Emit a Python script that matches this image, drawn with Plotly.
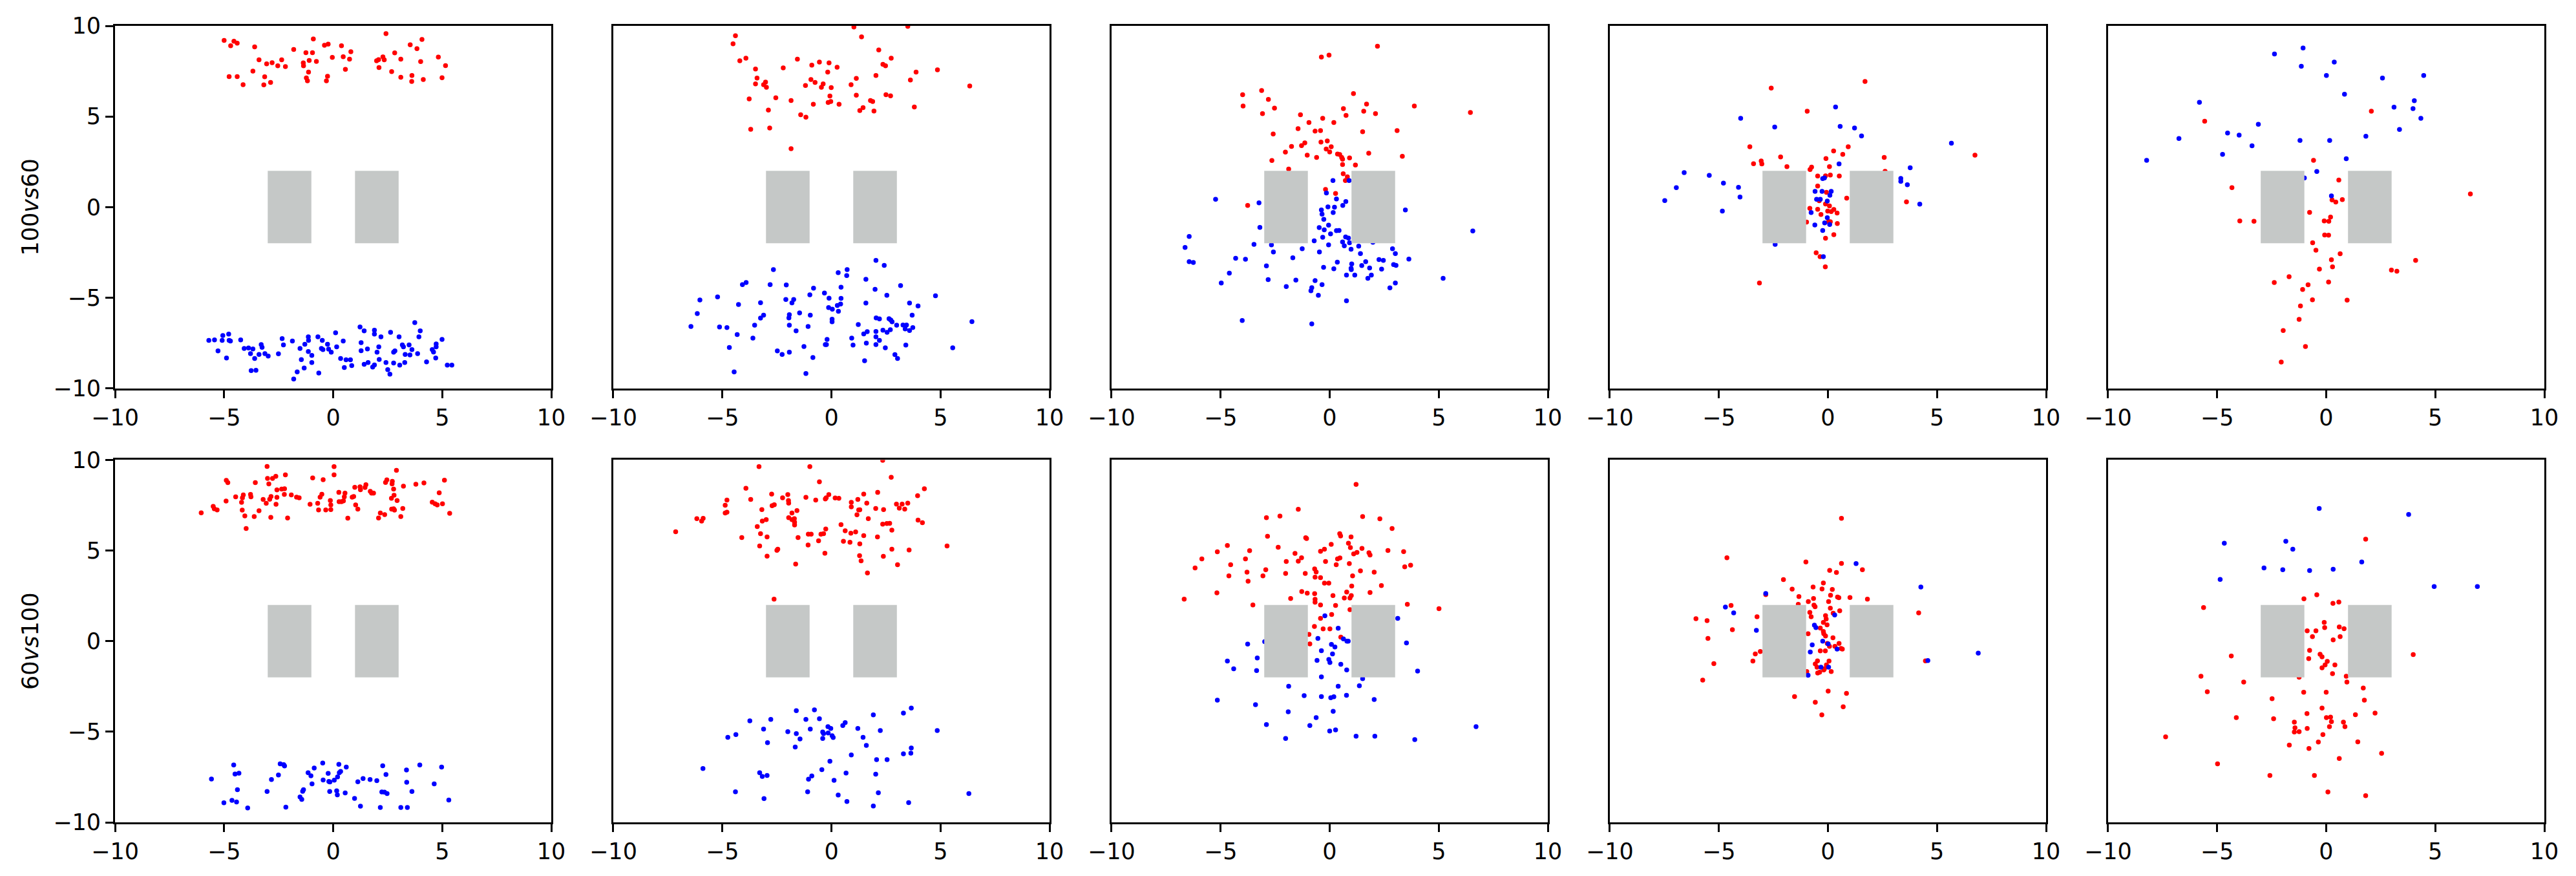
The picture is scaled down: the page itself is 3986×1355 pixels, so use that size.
import plotly.graph_objects as go
from plotly.subplots import make_subplots

# ---------------------------------------------------------------------------
# data: (x, y) of each point
# top row = "100 vs 60", bottom row = "60 vs 100", five stages left to right
# ---------------------------------------------------------------------------

top1_red = [(-5.0, 9.2), (-4.7, 8.9), (-4.55, 9.15), (-4.4, 9.05), (-3.6, 8.84), (-4.77, 7.2), (-4.4, 7.2),
            (-4.13, 6.75), (-3.68, 7.5), (-3.4, 8.13), (-3.05, 7.9), (-2.8, 7.97), (-3.14, 7.19), (-3.18, 6.74),
            (-2.87, 6.88), (-2.54, 7.8), (-2.36, 8.13), (-2.19, 7.75), (-1.81, 8.7), (-1.25, 8.52), (-0.95, 8.52),
            (-0.91, 9.28), (-1.37, 7.96), (-1.36, 7.8), (-1.1, 8.09), (-1.13, 7.45), (-0.77, 8.04), (-1.23, 7.13),
            (-1.18, 6.97), (-0.4, 8.93), (-0.23, 8.99), (-0.26, 7.22), (-0.31, 6.97), (-0.04, 8.26), (0.38, 8.9),
            (0.46, 8.3), (0.81, 8.57), (0.75, 8.16), (0.56, 7.6), (2.42, 9.57), (1.99, 8.07), (2.08, 8.14),
            (2.28, 8.29), (2.34, 8.13), (2.1, 7.7), (2.68, 7.48), (2.82, 8.51), (3.1, 8.16), (3.1, 7.16),
            (3.53, 8.96), (3.84, 8.74), (4.07, 9.25), (4.01, 8.03), (3.61, 7.26), (3.6, 6.93), (4.13, 7.04),
            (4.82, 8.28), (5.15, 7.81), (4.99, 7.14)]
top1_blue = [(-5.7, -7.36), (-5.44, -7.33), (-5.28, -7.94), (-5.09, -7.36), (-5.06, -7.09), (-4.79, -7.01),
             (-4.77, -7.36), (-4.71, -7.39), (-4.89, -8.33), (-4.24, -7.33), (-4.08, -7.8), (-3.88, -7.78),
             (-3.68, -7.83), (-3.79, -8.09), (-3.6, -8.36), (-3.76, -9.03), (-3.54, -9.01), (-3.3, -7.59),
             (-3.26, -7.74), (-3.4, -8.13), (-3.13, -8.09), (-2.98, -8.22), (-2.51, -8.1), (-2.34, -7.26),
             (-2.28, -7.61), (-1.87, -7.39), (-1.81, -9.49), (-1.65, -9.1), (-1.52, -7.8), (-1.46, -8.42),
             (-1.33, -8.88), (-1.3, -7.57), (-1.14, -7.16), (-1.13, -7.36), (-1.14, -7.97), (-0.98, -8.19),
             (-0.98, -8.58), (-0.7, -7.16), (-0.66, -9.16), (-0.5, -7.36), (-0.54, -7.8), (-0.47, -7.87),
             (-0.26, -7.57), (-0.21, -7.84), (-0.09, -8.01), (0.11, -6.94), (0.16, -7.71), (0.46, -7.39),
             (0.34, -8.36), (0.51, -8.86), (0.59, -8.43), (0.79, -8.43), (0.85, -8.75), (1.23, -6.62),
             (1.42, -6.83), (1.28, -7.48), (1.28, -7.93), (1.57, -7.83), (1.42, -8.68), (1.6, -8.58),
             (1.81, -8.83), (1.89, -8.71), (1.89, -6.8), (1.89, -7.01), (2.19, -7.16), (2.09, -7.71),
             (2.01, -8.01), (2.11, -8.41), (2.42, -8.58), (2.5, -8.97), (2.6, -9.22), (2.63, -6.91),
             (2.77, -8.01), (2.83, -7.94), (2.77, -8.61), (3.02, -7.16), (3.05, -8.72), (3.17, -7.61),
             (3.22, -7.71), (3.3, -8.13), (3.28, -8.58), (3.48, -7.61), (3.52, -8.16), (3.61, -7.87),
             (3.74, -6.38), (3.99, -6.83), (3.93, -7.16), (3.87, -8.09), (4.28, -8.54), (4.54, -7.87),
             (4.6, -8.0), (4.72, -7.55), (4.72, -7.71), (4.7, -8.33), (4.99, -7.3), (5.23, -8.72), (5.44, -8.72)]

top2_red = [(1.03, 9.94), (3.5, 9.97), (-4.4, 9.46), (-4.51, 9.01), (1.38, 9.39), (2.17, 8.67), (-3.92, 8.22),
            (-4.2, 8.07), (-1.56, 8.16), (-3.48, 7.62), (-2.21, 7.68), (-0.9, 7.83), (-0.55, 8.0), (-0.11, 7.96),
            (0.26, 7.72), (-0.17, 7.45), (2.74, 8.22), (2.36, 7.88), (2.48, 7.8), (4.86, 7.57), (3.88, 7.45),
            (2.04, 7.26), (-3.41, 7.12), (-3.02, 6.9), (-3.11, 6.75), (-3.48, 6.8), (-2.98, 6.61), (-0.94, 7.04),
            (-0.75, 6.88), (-1.19, 6.71), (-0.38, 6.8), (-0.46, 6.61), (-0.01, 6.59), (1.14, 7.1), (0.9, 6.75),
            (3.62, 7.01), (6.34, 6.68), (-3.77, 5.97), (-2.55, 6.03), (-1.85, 5.88), (-0.83, 5.67), (-0.07, 6.13),
            (-0.15, 5.77), (-0.03, 5.83), (0.35, 5.67), (1.14, 6.17), (1.79, 5.88), (1.89, 5.83), (2.5, 6.2),
            (2.71, 6.14), (1.3, 5.33), (1.45, 5.49), (1.95, 5.3), (3.8, 5.52), (-2.89, 5.35), (-1.41, 5.09),
            (-1.17, 4.96), (-3.7, 4.29), (-2.83, 4.36), (-1.85, 3.22)]
top2_blue = [(2.04, -2.94), (2.42, -3.22), (-2.66, -3.45), (0.31, -3.62), (0.72, -3.45), (0.7, -3.78),
             (1.58, -3.99), (-4.08, -4.28), (-3.91, -4.16), (-2.81, -4.28), (-2.07, -4.3), (-0.82, -4.48),
             (0.44, -4.42), (3.17, -4.33), (2.0, -4.54), (2.54, -4.87), (4.77, -4.9), (-5.22, -4.96),
             (-6.03, -5.13), (-0.99, -4.84), (-0.32, -4.74), (-0.11, -5.03), (0.44, -5.04), (-2.09, -5.1),
             (-1.73, -5.1), (-1.81, -5.29), (-3.25, -5.28), (-4.26, -5.38), (1.58, -5.3), (3.58, -5.3),
             (3.97, -5.46), (0.27, -5.43), (0.42, -5.35), (-0.13, -5.55), (0.04, -5.64), (0.32, -5.75),
             (-6.15, -5.88), (-3.11, -5.97), (-3.25, -6.13), (-1.93, -5.94), (-1.95, -6.12), (-1.46, -5.84),
             (-0.97, -5.97), (0.03, -6.19), (0.03, -6.33), (2.05, -6.12), (2.2, -6.17), (2.64, -6.16),
             (2.72, -6.23), (2.78, -6.33), (3.7, -5.97), (6.44, -6.32), (-6.44, -6.59), (-5.13, -6.62),
             (-4.79, -6.65), (-3.52, -6.52), (-1.93, -6.52), (-1.07, -6.59), (-1.62, -6.83), (1.23, -6.48),
             (2.99, -6.52), (3.28, -6.51), (3.44, -6.51), (3.38, -6.72), (3.58, -6.81), (3.73, -6.65),
             (2.36, -6.8), (2.55, -6.91), (2.7, -6.77), (2.04, -6.87), (1.64, -6.88), (1.48, -7.0),
             (-4.32, -7.04), (-3.6, -7.23), (0.93, -7.23), (2.04, -7.16), (2.2, -7.36), (-0.2, -7.3),
             (-0.28, -7.59), (-0.23, -7.59), (0.99, -7.62), (1.6, -7.51), (2.04, -7.59), (2.47, -7.77),
             (3.41, -7.62), (5.56, -7.77), (-4.68, -7.75), (-1.26, -7.7), (-2.48, -7.94), (-2.26, -8.13),
             (-1.93, -8.01), (-0.85, -8.3), (1.52, -8.48), (2.91, -8.14), (3.03, -8.36), (-4.46, -9.1),
             (-1.17, -9.19)]

top3_red = [(2.19, 8.88), (-0.38, 8.28), (-0.03, 8.39), (-3.12, 6.43), (-3.99, 6.2), (-3.97, 5.58), (-2.81, 5.94),
            (-2.53, 5.46), (-3.08, 5.16), (1.09, 6.26), (3.88, 5.58), (1.69, 5.68), (0.63, 5.43), (0.75, 5.06),
            (1.56, 5.29), (2.1, 5.16), (6.45, 5.22), (-1.34, 5.09), (-0.32, 4.9), (-0.95, 4.67), (0.19, 4.67),
            (-1.45, 4.33), (-0.67, 4.19), (-0.42, 4.22), (1.51, 4.16), (3.09, 4.22), (-2.59, 4.03), (-0.11, 3.65),
            (-0.4, 3.59), (-1.14, 3.54), (-1.29, 3.39), (-1.75, 3.35), (0.07, 3.33), (-0.16, 3.2), (0.0, 3.04),
            (-2.03, 3.03), (-1.03, 2.86), (0.36, 2.93), (0.46, 2.9), (-0.6, 2.74), (0.55, 2.74), (0.59, 2.64),
            (0.91, 2.71), (1.79, 2.97), (3.33, 2.8), (-2.65, 2.57), (0.59, 2.35), (1.18, 2.32), (-1.88, 2.1),
            (0.62, 1.84), (0.81, 1.67), (0.72, 1.46), (-0.19, 0.97), (0.27, 0.75), (-3.76, 0.09)]
top3_blue = [(0.15, 1.46), (0.89, 1.46), (-0.15, 0.78), (0.31, 0.45), (0.74, 0.3), (0.6, 0.09), (-5.23, 0.43),
             (-3.24, 0.23), (-0.08, 0.01), (0.22, -0.01), (-0.38, -0.16), (-0.35, -0.39), (0.16, -0.3),
             (3.47, -0.16), (-0.27, -0.68), (-0.05, -1.0), (-0.48, -1.13), (-0.25, -1.26), (0.31, -1.3),
             (0.43, -1.29), (0.04, -1.48), (-3.2, -1.12), (6.56, -1.32), (-6.44, -1.62), (-0.32, -1.67),
             (0.73, -1.65), (0.86, -1.71), (-0.71, -1.86), (0.59, -1.93), (0.91, -1.97), (1.98, -1.94),
             (-0.05, -2.09), (0.67, -2.14), (-2.67, -2.09), (-6.63, -2.23), (-3.47, -2.06), (-1.26, -2.3),
             (0.98, -2.33), (1.33, -2.16), (2.88, -2.3), (-2.58, -2.48), (-0.47, -2.48), (1.41, -2.57),
             (3.01, -2.57), (-6.44, -3.01), (-6.25, -3.06), (-4.31, -2.83), (-3.86, -2.88), (-1.69, -2.8),
             (3.63, -2.87), (2.26, -2.9), (2.46, -2.94), (0.35, -3.04), (1.01, -3.14), (1.65, -3.01),
             (1.47, -3.23), (2.93, -3.17), (3.04, -3.22), (-2.9, -3.25), (-0.28, -3.33), (0.19, -3.41),
             (0.98, -3.38), (0.99, -3.45), (1.83, -3.36), (2.38, -3.42), (-4.6, -3.65), (0.77, -3.75),
             (1.15, -3.75), (1.91, -3.75), (1.75, -3.93), (5.2, -3.93), (-4.97, -4.19), (-2.82, -4.0),
             (-1.55, -4.03), (-0.67, -4.06), (-0.35, -4.28), (-1.99, -4.39), (-0.82, -4.45), (-0.86, -4.62),
             (3.01, -4.19), (2.76, -4.46), (-0.52, -4.87), (0.77, -5.17), (-4.01, -6.26), (-0.82, -6.45)]

top4_red = [(1.7, 6.93), (-2.6, 6.57), (-0.95, 5.29), (-3.58, 3.33), (-2.17, 2.77), (-3.06, 2.54), (-3.03, 2.38),
            (-3.41, 2.39), (-1.88, 2.23), (0.93, 3.33), (0.26, 3.1), (0.68, 2.91), (-0.09, 2.68), (2.58, 2.74),
            (6.74, 2.86), (-0.75, 2.2), (-0.82, 2.07), (0.07, 2.23), (-0.47, 1.71), (-0.11, 1.72), (0.11, 1.77),
            (0.52, 1.71), (2.62, 1.97), (-0.47, 1.16), (-0.07, 0.81), (0.86, 0.49), (3.6, 0.29), (-0.4, 0.35),
            (-0.11, 0.17), (0.07, 0.06), (-0.83, -0.07), (-0.47, -0.12), (-0.01, -0.22), (0.15, -0.25),
            (0.27, -0.13), (0.42, -0.33), (-0.32, -0.41), (-0.98, -0.83), (0.03, -0.8), (0.11, -0.81),
            (0.43, -0.91), (-0.11, -1.72), (0.27, -1.52), (-0.54, -2.52), (-0.36, -2.74), (-0.12, -3.3),
            (-3.14, -4.19)]
top4_blue = [(0.35, 5.52), (-4.0, 4.9), (-2.44, 4.42), (0.56, 4.45), (1.22, 4.36), (1.54, 3.93), (5.66, 3.52),
             (0.51, 2.38), (3.77, 2.17), (-6.59, 1.9), (-5.44, 1.75), (-4.79, 1.32), (-4.1, 1.09), (-6.95, 1.07),
             (-4.03, 0.55), (-7.48, 0.36), (-4.84, -0.22), (3.34, 1.58), (3.34, 1.42), (3.64, 1.23), (4.21, 0.16),
             (-0.24, 1.57), (-0.16, 1.61), (-0.59, 0.87), (-0.27, 0.87), (0.15, 0.87), (0.09, 0.65), (-0.52, 0.43),
             (-0.35, 0.43), (-0.03, 0.33), (-0.77, -0.3), (-0.03, -0.59), (-0.15, -0.87), (0.08, -0.96),
             (-0.6, -0.99), (-0.24, -1.29), (-2.42, -2.06), (-0.21, -2.74)]

top5_red = [(2.07, 5.29), (-5.57, 4.74), (-0.58, 2.58), (0.58, 1.49), (-4.32, 1.07), (6.61, 0.72), (0.27, 0.39),
            (0.44, 0.28), (0.74, 0.41), (-0.76, -0.29), (0.2, -0.55), (-3.96, -0.77), (-3.31, -0.78),
            (-0.09, -0.77), (0.12, -0.78), (-0.07, -1.54), (0.11, -1.55), (-0.62, -1.97), (-0.47, -2.38),
            (0.64, -2.58), (0.24, -2.91), (0.29, -3.3), (4.1, -2.94), (2.99, -3.48), (3.24, -3.54), (-0.31, -3.42),
            (-1.7, -3.84), (-2.38, -4.16), (-0.83, -4.29), (-1.08, -4.55), (0.11, -4.14), (-0.63, -5.12),
            (0.96, -5.14), (-1.18, -5.46), (-1.24, -6.2), (-1.97, -6.81), (-0.95, -7.7), (-2.06, -8.55)]
top5_blue = [(-1.06, 8.78), (-2.37, 8.45), (-1.14, 7.77), (0.37, 8.0), (0.01, 7.26), (2.58, 7.12), (4.47, 7.26),
             (0.84, 6.23), (-5.81, 5.78), (4.04, 5.87), (3.11, 5.51), (3.98, 5.43), (4.34, 4.9), (-3.11, 4.57),
             (3.36, 4.28), (-4.52, 4.09), (-3.99, 3.97), (-6.75, 3.78), (1.82, 3.91), (-1.2, 3.68), (0.16, 3.68),
             (-3.4, 3.38), (-4.75, 2.91), (-8.23, 2.58), (0.92, 2.67), (-0.43, 1.96), (-1.0, 1.61), (0.24, 0.62)]

bot1_red = [(-3.03, 9.64), (0.04, 9.63), (2.9, 9.43), (0.04, 9.18), (-2.19, 9.18), (-2.63, 9.1), (-2.78, 8.98),
            (-3.01, 8.98), (-0.94, 9.01), (-0.46, 8.91), (-4.9, 8.87), (-4.83, 8.75), (-3.57, 8.75), (-2.95, 8.68),
            (2.46, 8.9), (2.4, 8.76), (2.71, 8.82), (2.7, 8.68), (3.79, 8.66), (4.16, 8.73), (5.1, 8.88),
            (3.22, 8.55), (0.99, 8.49), (1.23, 8.52), (1.25, 8.36), (1.5, 8.63), (1.46, 8.48), (2.77, 8.39),
            (-2.58, 8.35), (-2.36, 8.39), (-2.23, 8.41), (1.7, 8.27), (1.76, 8.17), (1.85, 8.17), (4.86, 8.19),
            (0.26, 8.21), (0.54, 8.17), (-4.12, 8.07), (-3.79, 8.1), (-3.77, 7.96), (-4.47, 7.96), (-4.16, 7.91),
            (-2.24, 8.1), (-1.92, 8.07), (-1.68, 7.95), (-1.56, 7.91), (-0.52, 8.11), (-0.6, 7.95), (-2.85, 7.98),
            (-2.58, 7.94), (-2.91, 7.83), (-3.21, 7.82), (0.51, 7.96), (0.87, 7.95), (0.94, 7.98), (2.79, 8.05),
            (2.67, 7.88), (2.93, 7.76), (-0.13, 7.76), (0.27, 7.7), (0.38, 7.7), (0.47, 7.74), (-4.91, 7.73),
            (-4.2, 7.66), (-3.07, 7.61), (-2.62, 7.55), (-1.06, 7.55), (-0.71, 7.61), (-0.11, 7.52), (1.03, 7.52),
            (4.54, 7.67), (4.67, 7.58), (4.77, 7.52), (5.01, 7.58), (-5.5, 7.44), (-5.45, 7.3), (-5.32, 7.24),
            (-4.17, 7.23), (-3.4, 7.2), (-0.67, 7.24), (-0.34, 7.24), (-0.11, 7.26), (1.13, 7.29), (2.68, 7.29),
            (2.81, 7.23), (2.77, 7.3), (3.19, 7.32), (-6.05, 7.08), (2.16, 7.07), (2.36, 6.98), (5.34, 7.05),
            (-4.05, 6.91), (-3.62, 6.88), (-2.86, 6.83), (-2.09, 6.8), (0.67, 6.79), (2.08, 6.8), (3.1, 6.88),
            (-3.99, 6.22)]
bot1_blue = [(-4.56, -6.83), (-2.43, -6.77), (-2.27, -6.82), (-2.23, -6.89), (-0.48, -6.73), (0.26, -6.8),
             (0.6, -6.95), (-0.87, -7.0), (2.27, -6.88), (3.97, -6.83), (4.97, -6.95), (3.36, -7.11),
             (-4.5, -7.33), (-4.32, -7.29), (-2.51, -7.39), (-1.15, -7.26), (-1.02, -7.43), (-0.23, -7.3),
             (0.28, -7.26), (0.34, -7.19), (2.42, -7.36), (-5.58, -7.61), (-2.83, -7.64), (-0.46, -7.66),
             (-0.2, -7.74), (-0.15, -7.77), (0.05, -7.67), (0.2, -7.49), (1.37, -7.58), (1.69, -7.64),
             (2.0, -7.7), (1.13, -7.76), (3.37, -7.79), (4.63, -7.88), (-0.97, -7.88), (-4.39, -8.2),
             (-1.36, -8.2), (-1.4, -8.29), (-3.03, -8.3), (-0.16, -8.3), (0.16, -8.26), (0.19, -8.48),
             (0.55, -8.38), (2.23, -8.32), (2.35, -8.33), (2.47, -8.41), (3.61, -8.3), (-1.52, -8.6),
             (-1.44, -8.73), (0.98, -8.68), (-5.01, -8.92), (-4.64, -8.79), (-4.43, -8.88), (5.3, -8.77),
             (-3.92, -9.21), (-2.17, -9.16), (1.25, -9.11), (2.16, -9.18), (3.1, -9.18), (3.4, -9.18)]

bot2_red = [(-3.32, 9.63), (-0.99, 9.63), (2.35, 9.98), (2.74, 9.04), (-0.55, 8.79), (-3.92, 8.44), (4.26, 8.41),
            (2.12, 8.21), (1.48, 8.12), (-2.74, 8.12), (-2.0, 8.09), (-0.12, 8.09), (3.95, 8.03), (-1.17, 7.94),
            (-2.24, 7.91), (-0.24, 7.91), (-0.28, 7.85), (0.17, 7.9), (0.34, 7.88), (-4.79, 7.79), (-3.7, 7.82),
            (-1.97, 7.76), (-1.96, 7.62), (-0.72, 7.79), (1.21, 7.82), (0.91, 7.66), (0.91, 7.41), (1.62, 7.62),
            (2.98, 7.56), (3.24, 7.56), (3.5, 7.62), (3.11, 7.34), (3.36, 7.29), (-4.87, 7.5), (-2.72, 7.47),
            (-2.62, 7.53), (-3.19, 7.26), (2.03, 7.32), (2.39, 7.26), (1.25, 7.24), (1.3, 7.25), (-1.58, 7.21),
            (-1.81, 7.07), (-4.87, 7.07), (-4.79, 7.12), (1.17, 6.97), (-6.17, 6.76), (-5.95, 6.63), (-5.88, 6.78),
            (-3.17, 6.63), (-2.99, 6.71), (-1.96, 6.81), (-1.81, 6.71), (-1.7, 6.76), (-1.69, 6.56), (-1.69, 6.41),
            (1.69, 6.76), (3.97, 6.68), (4.17, 6.54), (2.35, 6.46), (2.54, 6.49), (2.67, 6.5), (0.44, 6.43),
            (-3.4, 6.32), (-0.26, 6.19), (2.77, 6.13), (-7.14, 6.04), (0.63, 6.09), (0.89, 5.96), (1.11, 6.03),
            (-3.25, 5.93), (-1.06, 5.9), (-0.93, 5.9), (-0.48, 5.9), (-0.36, 5.93), (1.48, 5.82), (-4.11, 5.72),
            (-2.95, 5.75), (-1.53, 5.72), (2.11, 5.75), (-0.59, 5.54), (0.55, 5.51), (0.85, 5.46), (1.3, 5.37),
            (-3.29, 5.25), (-1.07, 5.31), (5.3, 5.25), (-2.46, 5.07), (-2.5, 5.01), (2.77, 5.07), (3.56, 5.03),
            (-0.3, 4.85), (-2.95, 4.69), (1.29, 4.72), (2.38, 4.68), (1.36, 4.43), (-1.64, 4.25), (3.03, 4.22),
            (1.65, 3.76), (-2.63, 2.32)]
bot2_blue = [(3.66, -3.69), (-1.61, -3.84), (-0.78, -3.79), (1.92, -4.07), (3.3, -3.97), (-3.74, -4.4),
             (-2.78, -4.32), (-1.17, -4.32), (-0.55, -4.28), (0.63, -4.5), (0.52, -4.66), (-0.16, -4.72),
             (-0.03, -4.82), (-0.97, -4.85), (-3.11, -4.85), (1.21, -4.82), (2.24, -4.93), (4.85, -4.93),
             (-2.0, -5.0), (-1.61, -5.1), (-0.4, -5.01), (-0.36, -5.1), (-0.15, -5.07), (0.03, -5.22),
             (0.08, -5.32), (-0.4, -5.37), (-4.38, -5.16), (-4.75, -5.31), (-1.44, -5.4), (1.45, -5.31),
             (-2.93, -5.6), (1.6, -5.75), (-1.66, -5.84), (3.66, -5.9), (3.64, -6.18), (3.3, -6.22),
             (0.91, -6.28), (2.07, -6.54), (2.55, -6.54), (-0.07, -6.63), (-5.89, -7.03), (-3.29, -7.26),
             (-3.17, -7.47), (-2.95, -7.41), (-0.44, -7.09), (0.67, -7.28), (2.03, -7.34), (-0.9, -7.44),
             (-1.05, -7.62), (0.12, -7.68), (-4.4, -8.31), (-1.09, -8.31), (0.31, -8.49), (2.15, -8.37),
             (6.3, -8.41), (-3.09, -8.69), (0.71, -8.85), (1.92, -9.1), (3.54, -8.91)]

bot3_red = [(1.21, 8.65), (-1.44, 7.28), (-2.9, 6.81), (-2.28, 6.9), (1.51, 6.88), (2.3, 6.75), (2.86, 6.22),
            (-2.85, 5.79), (-1.1, 5.71), (-1.06, 5.66), (0.46, 5.93), (0.5, 5.81), (0.98, 5.75), (-4.69, 5.28),
            (-5.15, 4.93), (-3.67, 4.99), (-2.36, 5.18), (0.07, 5.34), (-0.24, 5.07), (-0.42, 4.96), (0.86, 5.4),
            (0.95, 5.16), (1.48, 5.12), (1.25, 4.9), (1.1, 4.82), (1.8, 4.88), (1.85, 4.75), (2.67, 5.0),
            (3.39, 4.94), (-5.86, 4.54), (-3.86, 4.54), (-1.59, 4.84), (-1.29, 4.6), (-1.44, 4.41), (-1.99, 4.4),
            (-0.19, 4.4), (0.36, 4.54), (0.47, 4.59), (0.3, 4.22), (0.9, 4.28), (-6.17, 4.04), (-4.54, 4.22),
            (3.71, 4.19), (3.44, 4.1), (-2.93, 3.94), (-0.69, 3.99), (-0.62, 3.82), (-3.79, 3.81), (-2.02, 3.74),
            (-1.12, 3.74), (1.41, 3.88), (2.04, 3.81), (-4.62, 3.6), (-3.06, 3.6), (-0.67, 3.53), (-0.42, 3.5),
            (1.05, 3.6), (-3.74, 3.31), (-0.24, 3.2), (-0.04, 3.2), (1.01, 3.04), (2.37, 3.07), (-5.17, 2.67),
            (-1.28, 2.74), (-1.03, 2.65), (-0.69, 2.62), (0.15, 2.51), (0.78, 2.71), (0.99, 2.51), (0.93, 2.38),
            (0.67, 2.38), (1.85, 2.68), (-6.67, 2.32), (-1.79, 2.35), (-0.67, 2.31), (-0.67, 2.15), (-3.52, 2.0),
            (-0.42, 2.0), (0.27, 1.97), (0.93, 1.74), (3.56, 2.03), (5.01, 1.79), (0.09, 1.47), (-0.42, 1.26),
            (-0.7, 0.81), (-0.3, 0.68), (0.01, 0.68), (-0.95, 0.37), (-0.91, -0.15), (0.51, 0.22)]
bot3_blue = [(-0.22, 1.4), (3.12, 1.26), (0.39, 0.71), (-0.54, 0.15), (0.63, 0.12), (0.79, 0.0), (0.85, 0.0),
             (-3.76, -0.16), (-2.98, -0.03), (0.08, -0.18), (0.24, -0.32), (3.52, -0.1), (-0.38, -0.53),
             (0.13, -0.71), (-3.32, -0.93), (-4.69, -1.1), (-0.58, -1.06), (-0.04, -1.01), (0.01, -1.18),
             (0.51, -1.28), (-4.4, -1.53), (-3.35, -1.62), (0.78, -1.59), (4.03, -1.65), (-0.38, -1.97),
             (1.51, -2.07), (-1.88, -2.49), (0.39, -2.49), (1.36, -2.46), (-1.17, -3.01), (-0.38, -3.06),
             (0.05, -3.12), (0.19, -3.07), (0.77, -2.99), (2.04, -3.22), (-5.15, -3.26), (-3.4, -3.51),
             (-1.9, -3.9), (0.16, -3.87), (-0.62, -4.22), (-2.9, -4.6), (-0.91, -4.66), (0.0, -4.96),
             (0.27, -4.9), (-2.02, -5.37), (1.21, -5.25), (2.07, -5.25), (3.9, -5.43), (6.71, -4.72)]

bot4_red = [(0.62, 6.78), (-4.63, 4.6), (-1.01, 4.37), (0.62, 4.29), (1.58, 3.94), (0.08, 3.91), (0.39, 3.79),
            (-2.04, 3.4), (-0.21, 3.21), (-0.68, 2.99), (-0.27, 2.88), (0.2, 2.85), (-1.64, 2.87), (-1.33, 2.46),
            (0.12, 2.53), (0.44, 2.43), (0.5, 2.4), (1.01, 2.41), (1.81, 2.32), (-2.85, 2.57), (-0.66, 2.35),
            (-0.9, 2.18), (0.03, 2.18), (-1.36, 2.03), (-0.64, 1.99), (-0.59, 1.9), (0.11, 1.82), (0.54, 1.68),
            (-4.44, 1.97), (-0.83, 1.59), (0.24, 1.54), (-0.11, 1.41), (-0.77, 1.35), (-0.08, 1.22), (-0.04, 0.9),
            (-0.21, 1.03), (4.16, 1.56), (-6.05, 1.24), (-5.54, 1.13), (-3.25, 1.35), (-4.38, 0.63), (-5.5, 0.15),
            (-0.91, 0.41), (-0.35, 0.72), (-0.21, 0.53), (-0.19, 0.41), (-0.11, 0.28), (0.23, 0.19), (0.51, -0.13),
            (-0.03, -0.13), (0.07, -0.29), (0.32, -0.29), (0.6, -0.4), (0.66, -0.44), (-3.1, -0.57),
            (-3.33, -0.71), (-0.35, -0.54), (-0.12, -0.54), (-3.44, -1.1), (-5.23, -1.24), (-0.48, -1.09),
            (0.05, -1.1), (-0.58, -1.26), (-0.5, -1.44), (-0.16, -1.53), (-0.07, -1.31), (-0.19, -1.59),
            (-0.47, -1.76), (-0.38, -1.71), (0.15, -1.68), (-0.97, -1.68), (4.47, -1.09), (-5.74, -2.15),
            (0.01, -2.76), (0.85, -2.88), (-1.53, -3.06), (-0.58, -3.37), (0.7, -3.62), (-0.28, -4.07)]
bot4_blue = [(1.29, 4.28), (4.26, 2.99), (-2.85, 2.63), (-4.7, 1.88), (-4.32, 1.56), (0.31, 1.44), (-3.28, 0.6),
             (-0.62, 0.88), (-0.55, 0.75), (-0.24, 0.0), (0.01, -0.15), (-0.72, -0.21), (0.42, -0.44),
             (-0.81, -0.6), (6.89, -0.66), (4.58, -1.07), (-0.32, -1.44), (0.03, -1.44), (-0.91, -1.88)]

bot5_red = [(1.81, 5.63), (-0.43, 2.56), (-1.02, 2.34), (0.31, 2.09), (0.58, 2.16), (-5.62, 1.85), (-0.09, 1.03),
            (-0.07, 0.75), (-0.87, 0.57), (-0.47, 0.57), (0.6, 0.78), (0.82, 0.69), (-0.63, 0.25), (0.64, 0.25),
            (0.32, 0.07), (-0.76, -0.51), (-0.28, -0.72), (-0.19, -0.87), (-4.35, -0.82), (3.99, -0.74),
            (-0.8, -0.96), (0.05, -1.12), (-0.05, -1.31), (0.4, -1.31), (-0.19, -1.47), (0.29, -1.79),
            (-5.74, -1.94), (-1.24, -1.99), (0.92, -1.94), (0.95, -2.26), (-3.78, -2.26), (1.7, -2.59),
            (-5.45, -2.79), (-1.03, -2.82), (0.0, -2.82), (-2.48, -3.18), (1.75, -3.26), (-0.19, -3.69),
            (-0.88, -4.0), (2.24, -3.97), (1.34, -4.06), (-4.12, -4.22), (-2.41, -4.28), (0.01, -4.22),
            (0.2, -4.19), (0.24, -4.44), (-1.46, -4.47), (0.79, -4.47), (0.86, -4.72), (0.15, -4.72),
            (-1.43, -4.78), (-1.46, -5.01), (-1.24, -5.0), (-0.87, -4.82), (-0.15, -5.16), (-7.36, -5.28),
            (-0.36, -5.57), (1.45, -5.56), (-1.69, -5.74), (-0.79, -5.92), (2.54, -6.19), (0.6, -6.48),
            (-4.98, -6.77), (-2.58, -7.41), (-0.54, -7.41), (0.08, -8.32), (1.81, -8.53)]
bot5_blue = [(-0.32, 7.32), (3.78, 6.99), (-4.67, 5.4), (-1.85, 5.51), (-1.53, 5.07), (1.63, 4.37), (-2.85, 4.04),
             (-1.99, 3.94), (-0.76, 3.9), (0.32, 3.97), (-4.86, 3.41), (4.95, 3.01), (6.93, 3.01)]

row_labels = ["100<i>vs</i>60", "60<i>vs</i>100"]
panels = [
    [(top1_red, top1_blue), (top2_red, top2_blue), (top3_red, top3_blue), (top4_red, top4_blue), (top5_red, top5_blue)],
    [(bot1_red, bot1_blue), (bot2_red, bot2_blue), (bot3_red, bot3_blue), (bot4_red, bot4_blue), (bot5_red, bot5_blue)],
]

# two grey obstacles shared by every panel
obstacles = [(-3, -1, -2, 2), (1, 3, -2, 2)]
axis_ticks = [-10, -5, 0, 5, 10]
axis_ticktext = ["\u221210", "\u22125", "0", "5", "10"]

FONT = "DejaVu Sans"

fig = make_subplots(rows=2, cols=5, horizontal_spacing=0.0255, vertical_spacing=0.09)

for r, row in enumerate(panels, start=1):
    for c, (red, blue) in enumerate(row, start=1):
        fig.add_trace(go.Scatter(
            x=[p[0] for p in red], y=[p[1] for p in red], mode="markers",
            marker=dict(color="#ff0000", size=7.5, line=dict(width=0)), showlegend=False
        ), row=r, col=c)
        fig.add_trace(go.Scatter(
            x=[p[0] for p in blue], y=[p[1] for p in blue], mode="markers",
            marker=dict(color="#0000ff", size=7.5, line=dict(width=0)), showlegend=False
        ), row=r, col=c)
        for x0, x1, y0, y1 in obstacles:
            fig.add_shape(type="rect", x0=x0, x1=x1, y0=y0, y1=y1,
                          fillcolor="#c5c8c7", line=dict(width=0), layer="above",
                          row=r, col=c)

common = dict(
    range=[-10, 10], showgrid=False, zeroline=False,
    showline=True, linecolor="black", linewidth=3, mirror=True,
    tickvals=axis_ticks, ticktext=axis_ticktext,
    tickfont=dict(family=FONT, size=35, color="black"),
)
fig.update_xaxes(ticks="outside", ticklen=12, tickwidth=3, tickcolor="black", **common)
fig.update_yaxes(ticks="", showticklabels=False, **common)
fig.update_yaxes(ticks="outside", ticklen=12, tickwidth=3, tickcolor="black", showticklabels=True, col=1)

for i, label in enumerate(row_labels):
    fig.add_annotation(
        text=label, xref="paper", yref="paper", x=-0.0348, y=0.7725 - i * 0.545,
        showarrow=False, textangle=-90, font=dict(family=FONT, size=35, color="black"),
        xanchor="center", yanchor="middle"
    )

# page body adds an 8px offset, so margins are trimmed on the top/left
fig.update_layout(
    width=3986, height=1355,
    margin=dict(l=170, r=57, t=29, b=91),
    plot_bgcolor="white", paper_bgcolor="white",
    font=dict(family=FONT, color="black"),
)

fig.write_html("out.html")
